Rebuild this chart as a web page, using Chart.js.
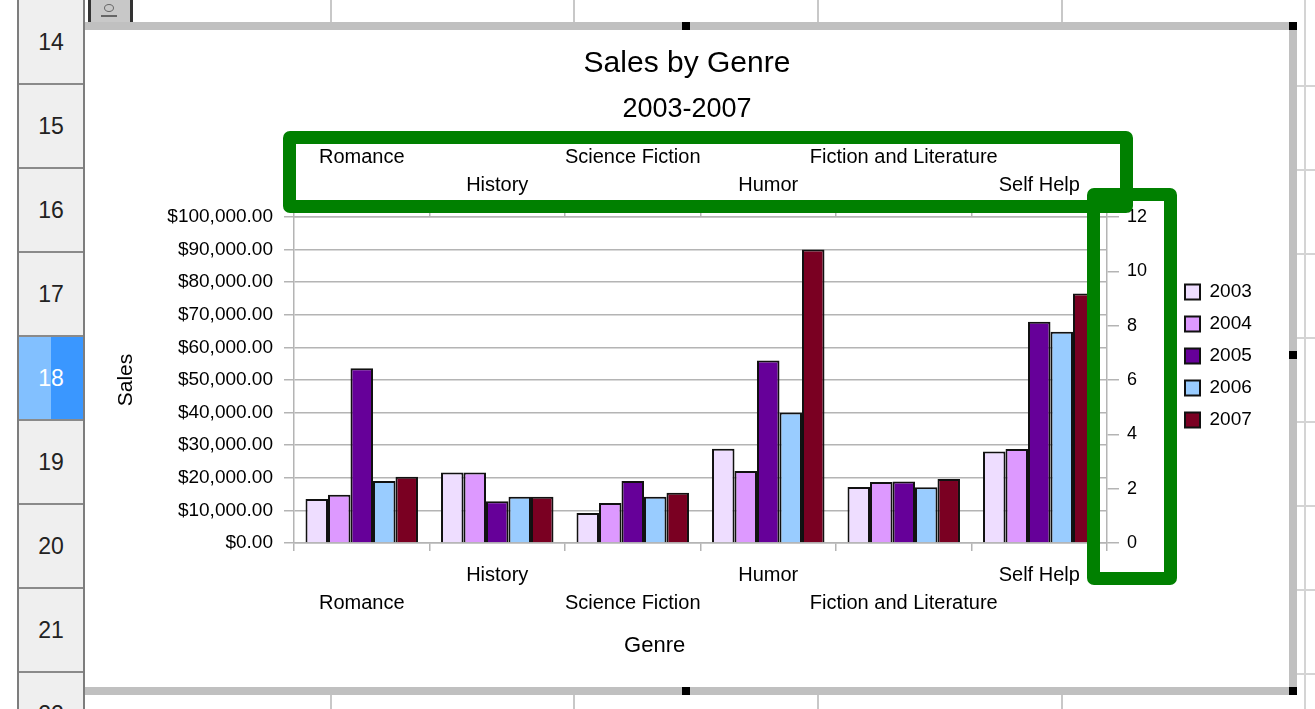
<!DOCTYPE html>
<html>
<head>
<meta charset="utf-8">
<script src="https://cdn.jsdelivr.net/npm/chart.js@4"></script>
<style>
  html, body { margin: 0; padding: 0; background: #fff; }
  body { width: 1315px; height: 709px; position: relative; overflow: hidden; font-family: 'Liberation Sans', Arial, sans-serif; }
  .abs { position: absolute; box-sizing: border-box; }
  #rowhdr { left: 17px; top: 0; width: 68px; height: 709px; background: #efefef; border-left: 2px solid #7d7d7d; border-right: 2px solid #7d7d7d; }
  .row { position: absolute; left: 0; width: 64px; height: 84px; border-bottom: 2px solid #8a8a8a; box-sizing: border-box;
         font-size: 23px; color: #222; display: flex; align-items: center; justify-content: center; }
  .row.sel { background: linear-gradient(to right, #82c0ff 0, #82c0ff 50%, #3a97ff 50%, #3a97ff 100%); color: #fff; }
  .colline { width: 2px; background: #c8c8c8; }
  .rline { height: 2px; background: #d4d4d4; }
  #frame { left: 85px; top: 22px; width: 1212px; height: 673px; border-top: 8px solid #c0c0c0; border-right: 8px solid #c0c0c0; border-bottom: 8px solid #c0c0c0; }
  .handle { width: 8px; height: 8px; background: #000; z-index: 3; }
  .green { border: 13px solid #008000; border-radius: 7px; z-index: 4; }
  #chartcanvas { position: absolute; left: 0; top: 0; z-index: 2; }
</style>
</head>
<body>
<div id="rowhdr" class="abs"></div>
<div class="abs" style="left:88px;top:0;width:45px;height:22px;background:#c8c8c8;border-left:3px solid #333;border-right:3px solid #333;">
  <div class="abs" style="left:13px;top:4px;width:10px;height:8px;border:1.5px solid #666;border-radius:50%;"></div>
  <div class="abs" style="left:10px;top:15px;width:16px;height:2px;background:#666;"></div>
</div>
<div id="frame" class="abs"></div>
<canvas id="chartcanvas" width="1315" height="709"></canvas>
<div class="abs green" style="left:283px;top:131px;width:850px;height:82px;"></div>
<div class="abs green" style="left:1087px;top:188px;width:90px;height:397px;"></div>

<script>
// ---------- data ----------
const categories = ['Romance', 'History', 'Science Fiction', 'Humor', 'Fiction and Literature', 'Self Help'];
const years = ['2003', '2004', '2005', '2006', '2007'];
const sales2003 = [13500, 21600, 9200, 28900, 17200, 28100];
const sales2004 = [14800, 21600, 12300, 22100, 18700, 28800];
const sales2005 = [53600, 12800, 19000, 56000, 18900, 67900];
const sales2006 = [19000, 14200, 14200, 40000, 17100, 64800];
const sales2007 = [20300, 14200, 15400, 90000, 19600, 76500];
const rowNumbers = [14, 15, 16, 17, 18, 19, 20, 21, 22];
const selectedRow = 18;
const secondaryTicks = [0, 2, 4, 6, 8, 10, 12];

// ---------- spreadsheet decoration ----------
const hdr = document.getElementById('rowhdr');
rowNumbers.forEach((r, i) => {
  const d = document.createElement('div');
  d.className = 'row' + (r === selectedRow ? ' sel' : '');
  d.style.top = (1 + i * 84) + 'px';
  d.textContent = r;
  hdr.appendChild(d);
});
[330, 573, 817, 1061].forEach(x => {
  [[0, 22], [695, 14]].forEach(([t, h]) => {
    const d = document.createElement('div');
    d.className = 'abs colline';
    d.style.left = x + 'px'; d.style.top = t + 'px'; d.style.height = h + 'px';
    document.body.appendChild(d);
  });
});
{
  const v = document.createElement('div');
  v.className = 'abs colline';
  v.style.left = '1304px'; v.style.top = '0px'; v.style.height = '709px'; v.style.background = '#d4d4d4';
  document.body.appendChild(v);
  [85, 169, 253, 337, 421, 505, 589, 673].forEach(y => {
    const d = document.createElement('div');
    d.className = 'abs rline';
    d.style.left = '1297px'; d.style.width = '18px'; d.style.top = y + 'px';
    document.body.appendChild(d);
  });
}
[[686, 26], [1293, 26], [1293, 355], [1293, 691], [686, 691]].forEach(([x, y]) => {
  const d = document.createElement('div');
  d.className = 'abs handle';
  d.style.left = (x - 4) + 'px'; d.style.top = (y - 4) + 'px';
  document.body.appendChild(d);
});

// ---------- chart ----------
Chart.defaults.font.family = "'Liberation Sans', Arial, sans-serif";
Chart.defaults.color = '#000';

const GRID = '#b4b4b4';
const LEGEND_W = 88.6;

const legendWidthPlugin = {
  id: 'legendWidth',
  beforeLayout(chart) {
    const lg = chart.legend;
    if (lg && !lg.__fixed) {
      const orig = lg.fit.bind(lg);
      lg.fit = function () { orig(); this.width = LEGEND_W; };
      lg.__fixed = true;
    }
  }
};

const colors = ['#EEDDFF', '#DD99FF', '#660099', '#99CCFF', '#7A0022'];
const seriesValues = [sales2003, sales2004, sales2005, sales2006, sales2007];

const datasets = years.map((y, i) => ({
  label: y,
  data: seriesValues[i],
  backgroundColor: colors[i],
  borderColor: '#111',
  borderWidth: 2,
  categoryPercentage: 0.83,
  barPercentage: 1.0,
  xAxisID: 'x',
  yAxisID: 'y'
}));

const stagger = (top) => (v, i) => {
  const name = categories[i];
  if (top) return i % 2 === 0 ? [name, ''] : ['', name];
  return i % 2 === 0 ? ['', name] : [name, ''];
};

new Chart(document.getElementById('chartcanvas'), {
  type: 'bar',
  data: { labels: categories, datasets },
  plugins: [legendWidthPlugin],
  options: {
    responsive: false,
    animation: false,
    devicePixelRatio: 1,
    layout: { padding: { left: 113.4, right: 54.4, top: 0, bottom: 49.8 } },
    plugins: {
      title: {
        display: true, text: 'Sales by Genre', color: '#000',
        font: { size: 30, weight: 'normal', lineHeight: 1.2 },
        padding: { top: 46, bottom: 0 }
      },
      subtitle: {
        display: true, text: '2003-2007', color: '#000',
        font: { size: 27, weight: 'normal', lineHeight: 1.2 },
        padding: { top: 11.8, bottom: 0 }
      },
      legend: {
        position: 'right', align: 'start', fullSize: false,
        title: { display: true, text: ' ', font: { size: 12, lineHeight: 1.2 }, padding: { top: 38.1, bottom: 0 } },
        labels: { boxWidth: 15, boxHeight: 15, padding: 13, color: '#000', font: { size: 19 } }
      },
      tooltip: { enabled: false }
    },
    scales: {
      x: {
        type: 'category', position: 'bottom', offset: true,
        grid: { offset: true, drawOnChartArea: false, color: GRID, lineWidth: 1.5, tickLength: 8 },
        border: { color: GRID, width: 1.5 },
        ticks: { autoSkip: false, maxRotation: 0, minRotation: 0, padding: 10,
                 font: { size: 20, lineHeight: 1.4 }, color: '#000', callback: stagger(false) },
        title: { display: true, text: 'Genre' + '\u0020'.repeat(15), color: '#000',
                 font: { size: 22, lineHeight: 1.2 }, padding: 0 },
        afterFit: s => { s.height = 116.2; }
      },
      x2: {
        type: 'category', position: 'top', offset: true,
        grid: { offset: true, drawOnChartArea: false, color: GRID, lineWidth: 1.5, tickLength: 8 },
        border: { color: GRID, width: 1.5 },
        ticks: { autoSkip: false, maxRotation: 0, minRotation: 0, padding: 10,
                 font: { size: 20, lineHeight: 1.4 }, color: '#000', callback: stagger(true) },
        afterFit: s => { s.height = 90.8; }
      },
      y: {
        type: 'linear', position: 'left', min: 0, max: 100000,
        grid: { color: GRID, lineWidth: 1.5, tickLength: 10 },
        border: { color: GRID, width: 1.5 },
        ticks: { stepSize: 10000, padding: 11, font: { size: 19 }, color: '#000',
                 callback: v => '$' + Number(v).toLocaleString('en-US', { minimumFractionDigits: 2, maximumFractionDigits: 2 }) },
        title: { display: true, text: 'Sales', color: '#000', font: { size: 21, lineHeight: 1.2 }, padding: 0 },
        afterFit: s => { s.width = 180.6; }
      },
      y2: {
        type: 'linear', position: 'right',
        min: secondaryTicks[0], max: secondaryTicks[secondaryTicks.length - 1],
        grid: { drawOnChartArea: false, color: GRID, lineWidth: 1.5, tickLength: 12 },
        border: { color: GRID, width: 1.5 },
        ticks: { stepSize: secondaryTicks[1] - secondaryTicks[0], padding: 8, font: { size: 18 }, color: '#000' },
        afterFit: s => { s.width = 65; }
      }
    }
  }
});
</script>
</body>
</html>
